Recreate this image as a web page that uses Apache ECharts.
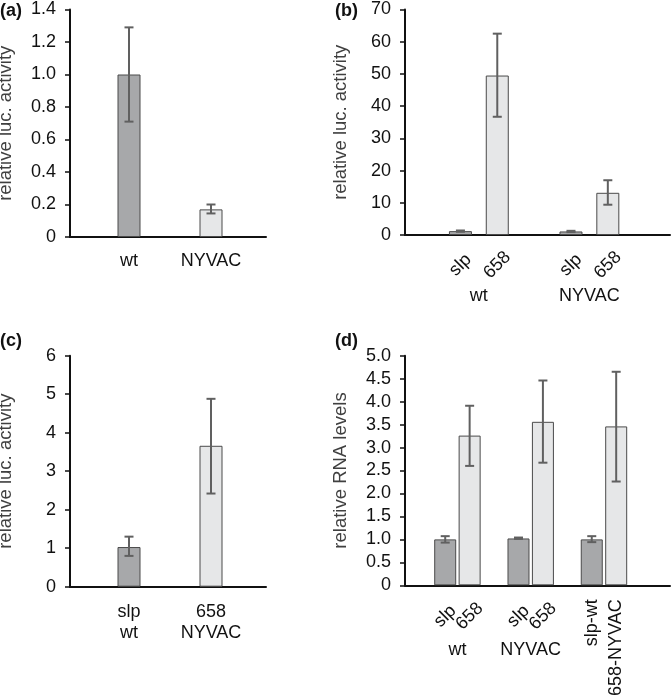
<!DOCTYPE html>
<html><head><meta charset="utf-8">
<script src="https://cdn.jsdelivr.net/npm/echarts@6/dist/echarts.min.js"></script>
<style>html,body{margin:0;padding:0;background:#fff}#c{width:671px;height:697px}</style>
</head><body><div id="c"></div>
<script>
// ---------- Panel (a) ----------
const catsA = ['wt', 'NYVAC'];
const valsA = [1.0, 0.17];
const errLoA = [0.71, 0.145];
const errHiA = [1.29, 0.20];
const shadeA = ['dark', 'light'];
const yTicksA = ['0', '0.2', '0.4', '0.6', '0.8', '1.0', '1.2', '1.4'];

// ---------- Panel (b) ----------
const slotsB = ['slp', '658', '', 'slp', '658'];
const valsB = [1.2, 49.5, null, 1.1, 13.1];
const errLoB = [1.0, 36.7, null, 0.9, 9.4];
const errHiB = [1.4, 62.5, null, 1.3, 17.0];
const shadeB = ['dark', 'light', null, 'dark', 'light'];
const groupsB = ['', 'wt', '', '', 'NYVAC', ''];
const yTicksB = ['0', '10', '20', '30', '40', '50', '60', '70'];

// ---------- Panel (c) ----------
const catsC = ['slp\nwt', '658\nNYVAC'];
const valsC = [1.03, 3.66];
const errLoC = [0.80, 2.42];
const errHiC = [1.30, 4.88];
const shadeC = ['dark', 'light'];
const yTicksC = ['0', '1', '2', '3', '4', '5', '6'];

// ---------- Panel (d) ----------
const tiltD = ['slp', '658', '', 'slp', '658', '', '', ''];
const uprightD = ['', '', '', '', '', '', 'slp-wt', '658-NYVAC'];
const valsD = [1.0, 3.26, null, 1.02, 3.56, null, 1.0, 3.46];
const errLoD = [0.93, 2.60, null, 1.01, 2.67, null, 0.94, 2.26];
const errHiD = [1.07, 3.91, null, 1.04, 4.46, null, 1.07, 4.65];
const shadeD = ['dark', 'light', null, 'dark', 'light', null, 'dark', 'light'];
const groupsD = ['', 'wt', '', '', 'NYVAC', '', '', '', ''];
const yTicksD = ['0', '0.5', '1.0', '1.5', '2.0', '2.5', '3.0', '3.5', '4.0', '4.5', '5.0'];

// ---------- styling ----------
const DARK = '#a7a8aa', LIGHT = '#e6e7e8', EDGE = '#4a4a4a', ERR = '#606060', AXIS = '#111111';
const FONT = '"Liberation Sans", Arial, Helvetica, sans-serif';

const grids = [], xAxes = [], yAxes = [], series = [], titles = [];

function errRender(params, api) {
  const x = api.value(0), lo = api.value(1), hi = api.value(2);
  const pH = api.coord([x, hi]), pL = api.coord([x, lo]);
  const w = 4.5;
  const st = { stroke: ERR, lineWidth: 2 };
  return { type: 'group', children: [
    { type: 'line', shape: { x1: pH[0], y1: pH[1], x2: pL[0], y2: pL[1] }, style: st },
    { type: 'line', shape: { x1: pH[0] - w, y1: pH[1], x2: pH[0] + w, y2: pH[1] }, style: st },
    { type: 'line', shape: { x1: pL[0] - w, y1: pL[1], x2: pL[0] + w, y2: pL[1] }, style: st }
  ]};
}

function addPanel(p) {
  const go = grids.length;
  grids.push({ left: p.outer.left, top: p.outer.top, width: p.outer.width, height: p.outer.height, containLabel: false, outerBoundsMode: 'none' });
  xAxes.push({ gridIndex: go, type: 'value', min: 0, max: 1, position: 'bottom',
    axisLine: { show: true, onZero: false, lineStyle: { color: AXIS, width: 2 } },
    axisTick: { show: false }, axisLabel: { show: false }, splitLine: { show: false } });
  yAxes.push({ gridIndex: go, type: 'value', min: 0, max: p.yMax, interval: p.yStep, position: 'left',
    axisLine: { show: true, onZero: false, lineStyle: { color: AXIS, width: 2 } },
    axisTick: { show: true, inside: false, length: 5, lineStyle: { color: AXIS, width: 1.5 } },
    axisLabel: { formatter: (v, i) => p.yTicks[i], fontSize: 18, color: '#111', fontFamily: FONT, margin: 14 },
    splitLine: { show: false },
    name: p.yName, nameLocation: 'middle', nameGap: 55,
    nameTextStyle: { fontSize: 18.5, color: '#404040', fontFamily: FONT } });

  const gi = grids.length;
  grids.push({ left: p.inner.left, top: p.outer.top, width: p.inner.width, height: p.outer.height, containLabel: false, outerBoundsMode: 'none' });
  const yi = yAxes.length;
  yAxes.push({ gridIndex: gi, type: 'value', min: 0, max: p.yMax, show: false });
  const xb = xAxes.length;
  xAxes.push({ gridIndex: gi, type: 'category', position: 'bottom', data: p.vals.map((v, i) => 'k' + i),
    axisLine: { show: false }, axisTick: { show: false }, axisLabel: { show: false }, splitLine: { show: false } });
  p.labelAxes.forEach(la => {
    xAxes.push({ gridIndex: gi, type: 'category', position: 'bottom', boundaryGap: la.boundaryGap,
      data: la.labels.map((v, i) => 'L' + i),
      axisLine: { show: false }, axisTick: { show: false }, splitLine: { show: false },
      axisLabel: { show: true, interval: 0, formatter: (v, i) => la.labels[i],
        rotate: la.rotate || 0, align: la.align, verticalAlign: la.verticalAlign,
        margin: la.margin, lineHeight: la.lineHeight, fontSize: 18, color: '#111', fontFamily: FONT,
        hideOverlap: false } });
  });
  series.push({ type: 'bar', xAxisIndex: xb, yAxisIndex: yi, barWidth: p.barWidth, animation: false, z: 2,
    itemStyle: { borderColor: EDGE, borderWidth: 1 },
    data: p.vals.map((v, i) => v == null ? '-' : { value: v, itemStyle: { color: p.shade[i] === 'dark' ? DARK : LIGHT } }) });
  const errData = [];
  p.vals.forEach((v, i) => { if (v != null) errData.push([i, p.lo[i], p.hi[i]]); });
  series.push({ type: 'custom', xAxisIndex: xb, yAxisIndex: yi, z: 3, animation: false,
    encode: { x: 0, y: [1, 2] }, renderItem: errRender, data: errData });
  titles.push({ text: p.tag, left: p.tagPos[0], top: p.tagPos[1], padding: 0,
    textStyle: { fontSize: 18, fontWeight: 'bold', color: '#111', fontFamily: FONT } });
}

addPanel({ tag: '(a)', tagPos: [0, 2],
  outer: { left: 70, top: 9.5, width: 196, height: 227.5 }, inner: { left: 88, width: 164 },
  yMax: 1.4, yStep: 0.2, yTicks: yTicksA, yName: 'relative luc. activity',
  vals: valsA, lo: errLoA, hi: errHiA, shade: shadeA, barWidth: 23,
  labelAxes: [{ labels: catsA, boundaryGap: true, margin: 15 }] });

addPanel({ tag: '(b)', tagPos: [335, 2],
  outer: { left: 405, top: 9.5, width: 265, height: 225.5 }, inner: { left: 442, width: 184.25 },
  yMax: 70, yStep: 10, yTicks: yTicksB, yName: 'relative luc. activity',
  vals: valsB, lo: errLoB, hi: errHiB, shade: shadeB, barWidth: 23,
  labelAxes: [
    { labels: slotsB, boundaryGap: true, rotate: 45, align: 'center', verticalAlign: 'middle', margin: 30 },
    { labels: groupsB, boundaryGap: false, margin: 52 }
  ] });

addPanel({ tag: '(c)', tagPos: [0, 332],
  outer: { left: 70, top: 355.7, width: 196, height: 231 }, inner: { left: 88, width: 164 },
  yMax: 6, yStep: 1, yTicks: yTicksC, yName: 'relative luc. activity',
  vals: valsC, lo: errLoC, hi: errHiC, shade: shadeC, barWidth: 23,
  labelAxes: [{ labels: catsC, boundaryGap: true, margin: 15, lineHeight: 21 }] });

addPanel({ tag: '(d)', tagPos: [335, 332],
  outer: { left: 405, top: 355.7, width: 265, height: 229.6 }, inner: { left: 433, width: 195.4 },
  yMax: 5, yStep: 0.5, yTicks: yTicksD, yName: 'relative RNA levels',
  vals: valsD, lo: errLoD, hi: errHiD, shade: shadeD, barWidth: 22,
  labelAxes: [
    { labels: tiltD, boundaryGap: true, rotate: 45, align: 'center', verticalAlign: 'middle', margin: 31 },
    { labels: uprightD, boundaryGap: true, rotate: 90, align: 'right', verticalAlign: 'middle', margin: 14 },
    { labels: groupsD, boundaryGap: false, margin: 56 }
  ] });

const chart = echarts.init(document.getElementById('c'), null, { renderer: 'canvas' });
chart.setOption({ animation: false, backgroundColor: '#fff', title: titles, grid: grids, xAxis: xAxes, yAxis: yAxes, series: series });
</script></body></html>
